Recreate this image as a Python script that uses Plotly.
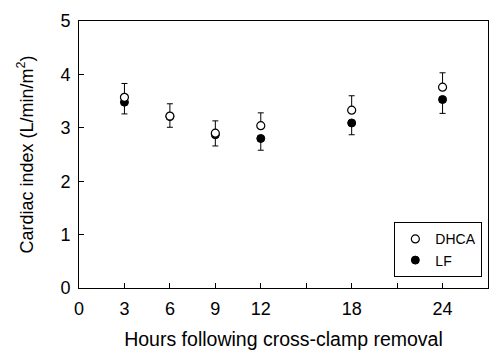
import plotly.graph_objects as go

hours = [3, 6, 9, 12, 18, 24]
dhca = [3.57, 3.22, 2.90, 3.04, 3.33, 3.76]
dhca_err_up = [0.26, 0.23, 0.23, 0.24, 0.27, 0.27]
lf = [3.48, 3.21, 2.87, 2.80, 3.09, 3.53]
lf_err_down = [0.22, 0.20, 0.21, 0.22, 0.22, 0.26]
zeros = [0, 0, 0, 0, 0, 0]
x_tickvals = [0, 3, 6, 9, 12, 18, 24]
y_tickvals = [0, 1, 2, 3, 4, 5]

font = "Liberation Sans, Arial, Helvetica, sans-serif"

fig = go.Figure()
fig.add_trace(go.Scatter(
    x=hours, y=lf, mode="markers", name="LF", legendrank=2,
    marker=dict(symbol="circle", size=8, color="black", line=dict(color="black", width=1)),
    error_y=dict(type="data", symmetric=False, array=zeros, arrayminus=lf_err_down,
                 color="black", thickness=1, width=3),
))
fig.add_trace(go.Scatter(
    x=hours, y=dhca, mode="markers", name="DHCA", legendrank=1,
    marker=dict(symbol="circle", size=8, color="white", line=dict(color="black", width=1.2)),
    error_y=dict(type="data", symmetric=False, array=dhca_err_up, arrayminus=zeros,
                 color="black", thickness=1, width=3),
))

fig.update_layout(
    width=500, height=357,
    margin=dict(l=79, r=11, t=13, b=68),
    paper_bgcolor="white", plot_bgcolor="white",
    font=dict(family=font, size=18, color="black"),
    showlegend=True,
    legend=dict(x=0.771, y=0.04, xanchor="left", yanchor="bottom",
                bordercolor="black", borderwidth=1, bgcolor="white",
                font=dict(size=14), itemwidth=30, tracegroupgap=0),
    xaxis=dict(range=[0, 27], tickvals=x_tickvals,
               ticks="inside", ticklen=5, tickcolor="black", tickwidth=1,
               ticklabelstandoff=4,
               minor=dict(tick0=0, dtick=3, ticks="inside", ticklen=5, tickcolor="black", tickwidth=1, showgrid=False),
               showline=True, linecolor="black", linewidth=1, mirror=True,
               showgrid=False, zeroline=False,
               title=dict(text="Hours following cross-clamp removal", font=dict(size=19.5), standoff=14)),
    yaxis=dict(range=[0, 5], tickvals=y_tickvals,
               ticks="inside", ticklen=5, tickcolor="black", tickwidth=1,
               ticklabelstandoff=4,
               showline=True, linecolor="black", linewidth=1, mirror=True,
               showgrid=False, zeroline=False,
               title=dict(text="Cardiac index (L/min/m<sup>2</sup>)", font=dict(size=18), standoff=22)),
)

fig.write_html("out.html")
